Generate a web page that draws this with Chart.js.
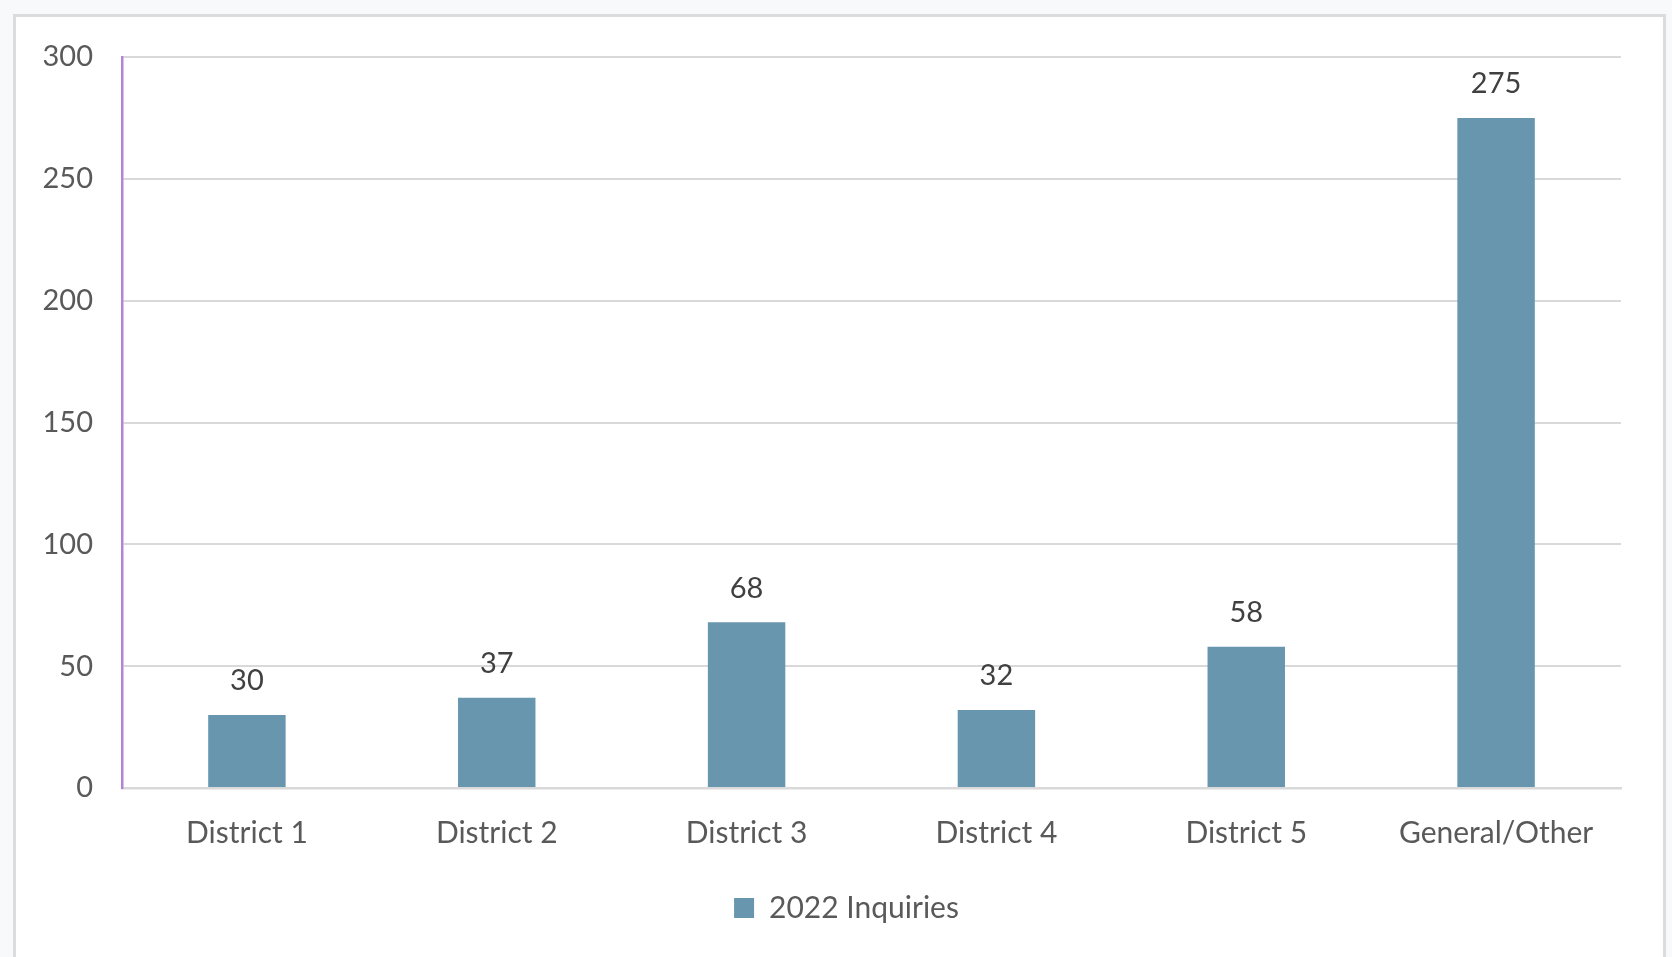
<!DOCTYPE html>
<html>
<head>
<meta charset="utf-8">
<script src="https://cdn.jsdelivr.net/npm/chart.js@4.4.1/dist/chart.umd.min.js"></script>
<style>
  html, body { margin: 0; padding: 0; background: #f8f9fb; overflow: hidden; }
  #frame {
    position: absolute; left: 13px; top: 14px; width: 1647px; height: 960px;
    border: 3px solid #dcdcdc; border-bottom: none; background: #fff;
  }
  #wrap { position: absolute; left: 0; top: 0; width: 1672px; height: 957px; }
</style>
</head>
<body>
<div id="frame"></div>
<div id="wrap"><canvas id="inquiriesChart"></canvas></div>
<script>
// chart data
const categories = ["District 1", "District 2", "District 3", "District 4", "District 5", "General/Other"];
const inquiries2022 = [30, 37, 68, 32, 58, 275];
const yTicks = [0, 50, 100, 150, 200, 250, 300];

const FONT = "Lato, 'Open Sans', sans-serif";

// value labels above each bar
const barLabels = {
    id: "barLabels",
    afterDatasetsDraw(chart) {
        const ctx = chart.ctx;
        const meta = chart.getDatasetMeta(0);
        ctx.save();
        ctx.font = "29px " + FONT;
        ctx.fillStyle = "#404040";
        ctx.textAlign = "center";
        ctx.textBaseline = "middle";
        meta.data.forEach((bar, i) => {
            ctx.fillText(String(inquiries2022[i]), bar.x, bar.y - 34);
        });
        ctx.restore();
    }
};

// centre the legend on the white frame rather than the canvas
const legendShift = {
    id: "legendShift",
    afterLayout(chart) {
        if (chart.legend) {
            chart.legend.left += 36;
            chart.legend.right += 36;
        }
    }
};

new Chart(document.getElementById("inquiriesChart").getContext("2d"), {
    type: "bar",
    data: {
        labels: categories,
        datasets: [{
            label: "2022 Inquiries",
            data: inquiries2022,
            backgroundColor: "#6896ae",
            categoryPercentage: 1,
            barPercentage: 0.31
        }]
    },
    options: {
        responsive: true,
        maintainAspectRatio: false,
        animation: false,
        layout: { padding: { left: 0, top: 57, right: 51, bottom: 24 } },
        scales: {
            x: {
                grid: { display: false, drawTicks: false },
                border: { color: "#d9d9d9", width: 2.5 },
                ticks: { color: "#595959", font: { family: FONT, size: 30 }, padding: 27 },
                afterFit: (scale) => { scale.height = 95; }
            },
            y: {
                min: 0,
                max: 300,
                afterBuildTicks: (scale) => { scale.ticks = yTicks.map(v => ({ value: v })); },
                grid: { color: "#d9d9d9", lineWidth: 2, drawTicks: false },
                border: { color: "#b383d6", width: 2.5 },
                ticks: { color: "#595959", font: { family: FONT, size: 29 }, padding: 29 },
                afterFit: (scale) => { scale.width = 122; }
            }
        },
        plugins: {
            legend: {
                position: "bottom",
                labels: {
                    color: "#595959",
                    font: { family: FONT, size: 30 },
                    boxWidth: 20,
                    boxHeight: 20,
                    padding: 10
                }
            },
            tooltip: { enabled: false }
        }
    },
    plugins: [barLabels, legendShift]
});
</script>
</body>
</html>
